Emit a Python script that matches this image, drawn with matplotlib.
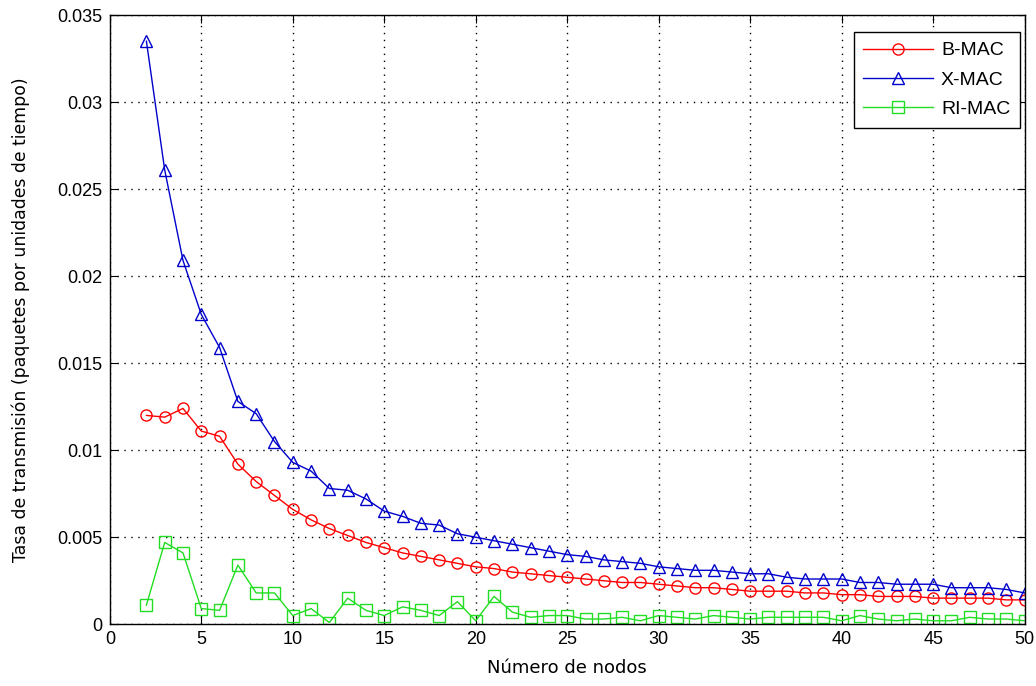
import numpy as np
import matplotlib
matplotlib.use("Agg")
import matplotlib.pyplot as plt

# nodos 2..50
nodos = list(range(2, 51))

bmac = [0.0120, 0.0119, 0.0124, 0.0111, 0.0108, 0.0092, 0.0082, 0.0074, 0.0066, 0.0060,
        0.0055, 0.0051, 0.0047, 0.0044, 0.0041, 0.0039, 0.0037, 0.0035, 0.0033, 0.0032,
        0.0030, 0.0029, 0.0028, 0.0027, 0.0026, 0.0025, 0.0024, 0.0024, 0.0023, 0.0022,
        0.0021, 0.0021, 0.0020, 0.0019, 0.0019, 0.0019, 0.0018, 0.0018, 0.0017, 0.0017,
        0.0016, 0.0016, 0.0016, 0.0015, 0.0015, 0.0015, 0.0015, 0.0014, 0.0014]

xmac = [0.0335, 0.0261, 0.0209, 0.0178, 0.0159, 0.0128, 0.0121, 0.0105, 0.0093, 0.0088,
        0.0078, 0.0077, 0.0072, 0.0065, 0.0062, 0.0058, 0.0057, 0.0052, 0.0050, 0.0048,
        0.0046, 0.0044, 0.0042, 0.0040, 0.0039, 0.0037, 0.0036, 0.0035, 0.0033, 0.0032,
        0.0031, 0.0031, 0.0030, 0.0029, 0.0029, 0.0027, 0.0026, 0.0026, 0.0026, 0.0024,
        0.0024, 0.0023, 0.0023, 0.0023, 0.0021, 0.0021, 0.0021, 0.0020, 0.0018]

rimac = [0.0011, 0.0047, 0.0041, 0.0009, 0.0008, 0.0034, 0.0018, 0.0018, 0.0005, 0.0009,
         0.0001, 0.0015, 0.0008, 0.0005, 0.0010, 0.0008, 0.0005, 0.0013, 0.0002, 0.0016,
         0.0007, 0.0004, 0.0005, 0.0005, 0.0003, 0.0003, 0.0004, 0.0002, 0.0005, 0.0004,
         0.0003, 0.0005, 0.0004, 0.0003, 0.0004, 0.0004, 0.0004, 0.0004, 0.0002, 0.0005,
         0.0003, 0.0002, 0.0003, 0.0002, 0.0002, 0.0004, 0.0003, 0.0003, 0.0002]

plt.rcParams['font.family'] = ['Liberation Sans', 'DejaVu Sans']

fig = plt.figure(figsize=(10.36, 6.86), dpi=100)
ax = fig.add_axes([0.106, 0.090, 0.883, 0.888])

ax.plot(nodos, bmac, '-o', color='red', mfc='none', ms=8, lw=1, label='B-MAC')
ax.plot(nodos, xmac, '-^', color='#0000cc', mfc='none', ms=9, lw=1, label='X-MAC')
ax.plot(nodos, rimac, '-s', color='#22dd22', mfc='none', ms=8, lw=1, label='RI-MAC')

ax.set_xlim(0, 50)
ax.set_ylim(0, 0.035)
ax.set_xticks(np.arange(0, 51, 5))
ax.set_yticks(np.arange(0, 0.0351, 0.005))
ax.set_yticklabels(['0', '0.005', '0.01', '0.015', '0.02', '0.025', '0.03', '0.035'])
ax.tick_params(direction='in', top=True, right=True, labelsize=13, length=6, pad=5)
ax.grid(True, color='black', linestyle=(0, (1, 4)), linewidth=1)
for s in ax.spines.values():
    s.set_linewidth(1)

ax.set_xlabel('Número de nodos', fontsize=13, family=['DejaVu Sans'], labelpad=8)
ax.set_ylabel('Tasa de transmisión (paquetes por unidades de tiempo)', fontsize=12.4,
              family=['DejaVu Sans'], labelpad=20)

leg = ax.legend(loc='upper right', bbox_to_anchor=(0.995, 0.972), fontsize=14,
                fancybox=False, framealpha=1, edgecolor='black', borderaxespad=0,
                handlelength=3.6, labelspacing=0.6, handletextpad=0.4, borderpad=0.5)
leg.get_frame().set_linewidth(1)

fig.savefig('out.png', dpi=100)
